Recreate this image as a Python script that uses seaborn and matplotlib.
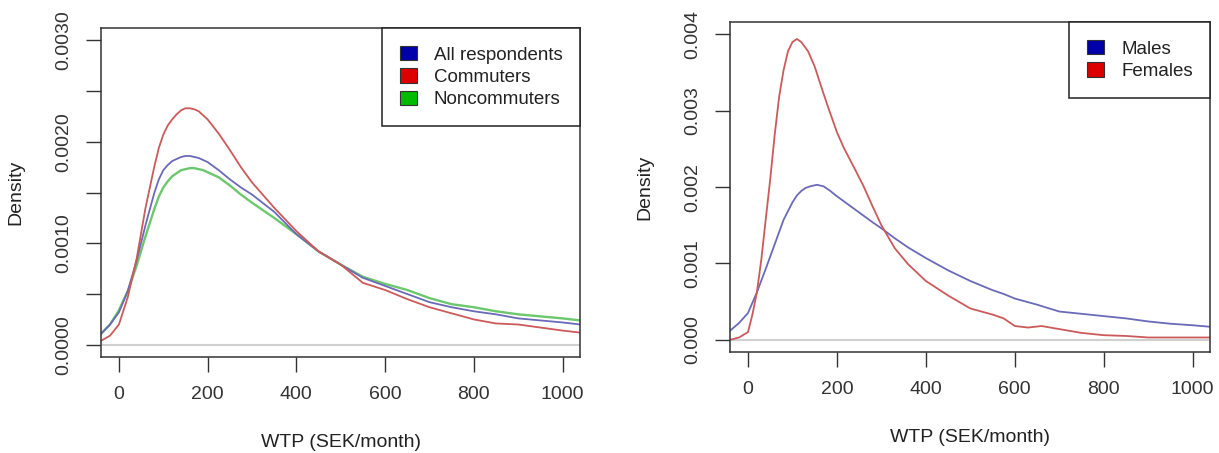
import numpy as np
import pandas as pd
import seaborn as sns
import matplotlib
matplotlib.use('Agg')
import matplotlib.pyplot as plt
from matplotlib.patches import Patch
from matplotlib.ticker import FuncFormatter

# 左图: 全体 / 通勤 / 非通勤
wtp_left = [-40, -20, 0, 20, 40, 60, 80, 90, 100, 110, 120, 130, 140, 150, 160, 170,
            180, 190, 200, 225, 250, 275, 300, 350, 400, 450, 500, 550, 600, 650, 700,
            750, 800, 850, 900, 950, 1000, 1040]
dens_all = [0.00011, 0.00020, 0.00032, 0.00053, 0.00083, 0.00118, 0.00150, 0.00163,
            0.00172, 0.00177, 0.00181, 0.00183, 0.00185, 0.00186, 0.00186, 0.00185,
            0.00184, 0.00182, 0.00180, 0.00172, 0.00163, 0.00155, 0.00148, 0.00131,
            0.00109, 0.00092, 0.00079, 0.00066, 0.00058, 0.00050, 0.00042, 0.00037,
            0.00033, 0.00030, 0.00026, 0.00024, 0.00022, 0.00020]
dens_comm = [0.00004, 0.00009, 0.00020, 0.00047, 0.00085, 0.00135, 0.00176, 0.00194,
             0.00207, 0.00216, 0.00222, 0.00227, 0.00231, 0.00233, 0.00233, 0.00232,
             0.00230, 0.00226, 0.00222, 0.00208, 0.00192, 0.00175, 0.00160, 0.00135,
             0.00112, 0.00092, 0.00079, 0.00061, 0.00054, 0.00045, 0.00037, 0.00031,
             0.00025, 0.00021, 0.00020, 0.00017, 0.00014, 0.00012]
dens_noncomm = [0.00011, 0.00020, 0.00034, 0.00053, 0.00078, 0.00107, 0.00134, 0.00146,
                0.00155, 0.00161, 0.00166, 0.00169, 0.00172, 0.00173, 0.00174, 0.00174,
                0.00173, 0.00172, 0.00170, 0.00165, 0.00157, 0.00148, 0.00140, 0.00125,
                0.00109, 0.00092, 0.00079, 0.00067, 0.00060, 0.00054, 0.00046, 0.00040,
                0.00037, 0.00033, 0.00030, 0.00028, 0.00026, 0.00024]

# 右图: 男 / 女
wtp_male = [-40, -20, 0, 20, 40, 60, 80, 100, 110, 120, 130, 140, 155, 170, 185, 200,
            240, 280, 300, 330, 360, 400, 450, 500, 550, 575, 600, 650, 700, 750, 800,
            850, 900, 950, 1000, 1040]
dens_male = [0.00012, 0.00022, 0.00035, 0.00062, 0.00093, 0.00125, 0.00157, 0.00180,
             0.00189, 0.00195, 0.00199, 0.00201, 0.00203, 0.00201, 0.00195, 0.00188,
             0.00171, 0.00154, 0.00146, 0.00133, 0.00121, 0.00107, 0.00091, 0.00077,
             0.00065, 0.00060, 0.00054, 0.00046, 0.00037, 0.00034, 0.00031, 0.00028,
             0.00024, 0.00021, 0.00019, 0.00017]
wtp_female = [-40, -20, 0, 10, 20, 30, 40, 50, 60, 70, 80, 90, 100, 110, 120, 135, 150,
              165, 180, 200, 215, 240, 260, 280, 300, 330, 360, 400, 450, 500, 550, 575,
              600, 630, 660, 700, 750, 800, 850, 900, 950, 1000, 1040]
dens_female = [0.0, 0.00003, 0.00010, 0.00033, 0.00062, 0.00105, 0.00158, 0.00210,
               0.00268, 0.00318, 0.00353, 0.00378, 0.00390, 0.00394, 0.00390, 0.00378,
               0.00358, 0.00331, 0.00305, 0.00272, 0.00252, 0.00224, 0.00201, 0.00175,
               0.00150, 0.00120, 0.00099, 0.00077, 0.00058, 0.00041, 0.00033, 0.00028,
               0.00018, 0.00016, 0.00018, 0.00014, 0.00009, 0.00006, 0.00005, 0.00003,
               0.00003, 0.00003, 0.00003]

sns.set_style('white')
plt.rcParams['font.family'] = ['Liberation Sans', 'DejaVu Sans']
plt.rcParams['text.color'] = '#222222'
plt.rcParams['axes.labelcolor'] = '#222222'
plt.rcParams['xtick.color'] = '#333333'
plt.rcParams['ytick.color'] = '#333333'

line_blue = '#6a6ab8'
line_red = '#cc5a5a'
line_green = '#6cc86c'
key_blue = '#0000aa'
key_red = '#dd0000'
key_green = '#00bb00'

fig = plt.figure(figsize=(12.19, 4.53), dpi=100)
ax1 = fig.add_axes([0.083, 0.212, 0.393, 0.726])
ax2 = fig.add_axes([0.599, 0.223, 0.394, 0.728])

for ax in (ax1, ax2):
    ax.axhline(0, color='#d0d0d0', lw=1.5, zorder=1)

sns.lineplot(x=wtp_left, y=dens_noncomm, color=line_green, lw=1.7, ax=ax1)
sns.lineplot(x=wtp_left, y=dens_all, color=line_blue, lw=1.3, ax=ax1)
sns.lineplot(x=wtp_left, y=dens_comm, color=line_red, lw=1.3, ax=ax1)

sns.lineplot(x=wtp_male, y=dens_male, color=line_blue, lw=1.3, ax=ax2)
sns.lineplot(x=wtp_female, y=dens_female, color=line_red, lw=1.3, ax=ax2)

ax1.set_xlim(-40, 1040)
ax1.set_ylim(-0.00012, 0.00312)
ax1.set_yticks(np.arange(0, 0.00301, 0.0005))
ax1.yaxis.set_major_formatter(FuncFormatter(
    lambda v, p: f'{v:.4f}' if round(v * 10000) % 10 == 0 else ''))

ax2.set_xlim(-40, 1040)
ax2.set_ylim(-0.00016, 0.00416)
ax2.set_yticks(np.arange(0, 0.00401, 0.001))
ax2.yaxis.set_major_formatter(FuncFormatter(lambda v, p: f'{v:.3f}'))

for ax in (ax1, ax2):
    ax.set_xticks([0, 200, 400, 600, 800, 1000])
    ax.tick_params(axis='both', direction='out', length=11, width=1, labelsize=14,
                   left=True, bottom=True)
    ax.tick_params(axis='x', pad=10)
    ax.tick_params(axis='y', pad=10)
    for lab in ax.get_yticklabels():
        lab.set_rotation(90)
        lab.set_va('center')
    for s in ax.spines.values():
        s.set_color('#333333')
        s.set_linewidth(1.1)
    ax.set_xlabel('WTP (SEK/month)', fontsize=14, labelpad=22)
    ax.set_ylabel('Density', fontsize=14, labelpad=22)

def key(ax, names, colors):
    handles = [Patch(facecolor=c, edgecolor='#333333', lw=0.8) for c in colors]
    leg = ax.legend(handles, names, loc='upper right', fontsize=13.5, frameon=True,
                    fancybox=False, framealpha=1, edgecolor='#222222',
                    borderaxespad=0, borderpad=0.95, handlelength=0.9,
                    handleheight=0.8, handletextpad=0.9, labelspacing=0.25)
    leg.get_frame().set_linewidth(1.1)

key(ax1, ['All respondents', 'Commuters', 'Noncommuters'], [key_blue, key_red, key_green])
key(ax2, ['Males', 'Females'], [key_blue, key_red])

fig.savefig('out.png', dpi=100)
